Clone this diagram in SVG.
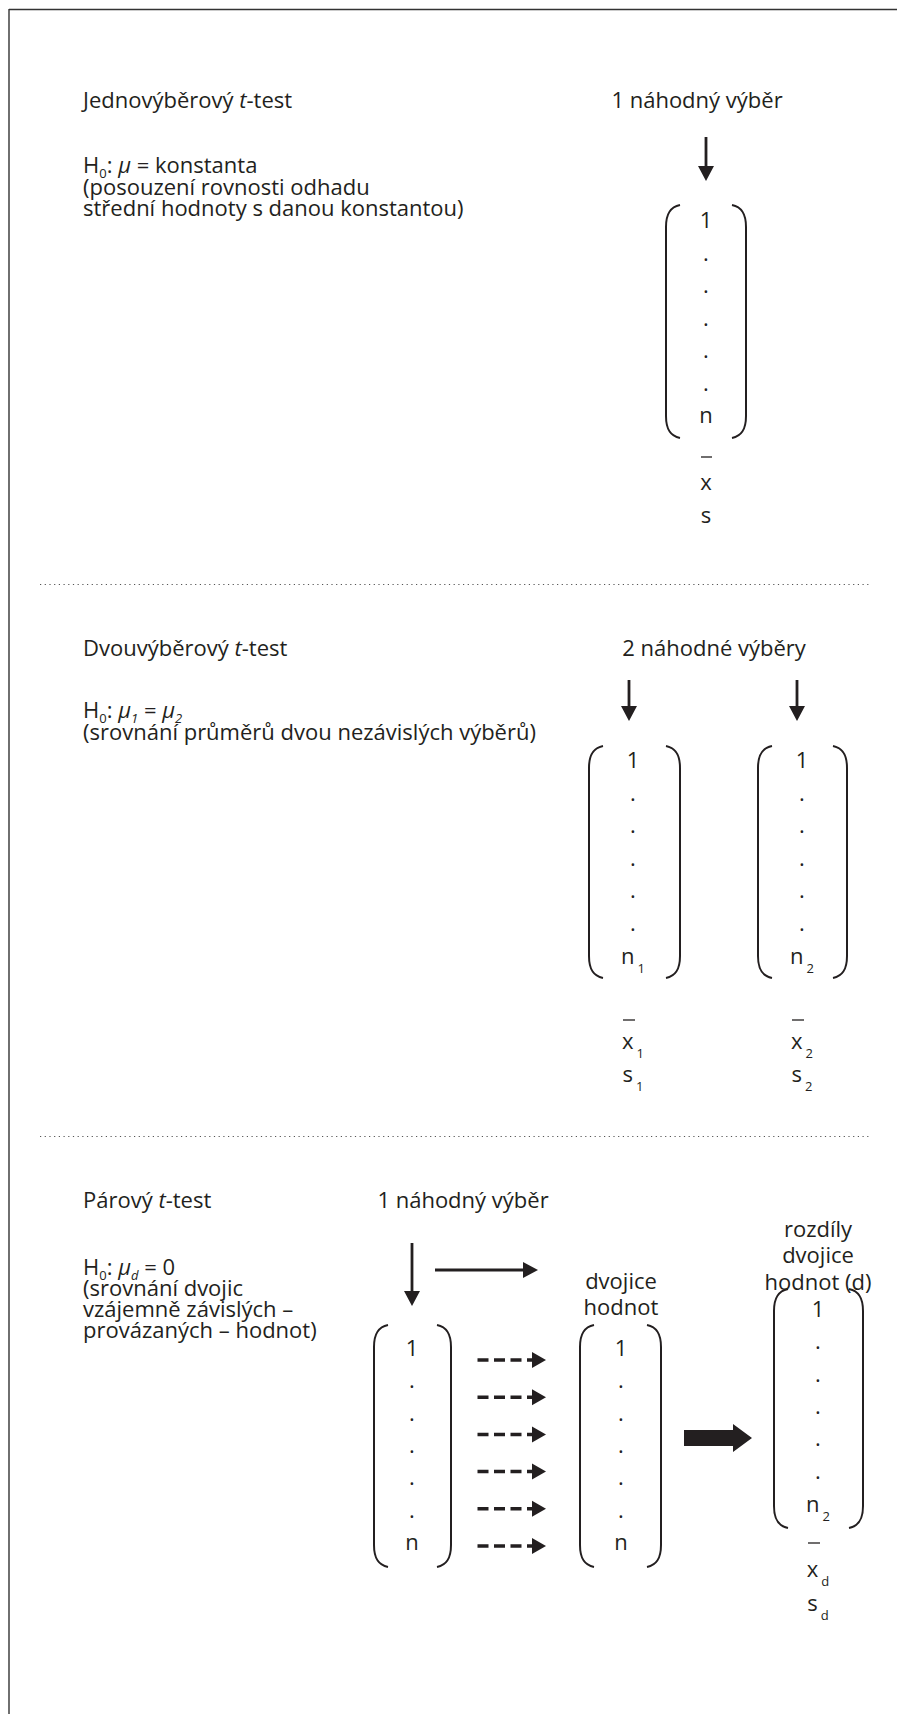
<svg xmlns="http://www.w3.org/2000/svg" width="897" height="1714" viewBox="0 0 897 1714">
<style>
text{font-family:"Open Sans","Noto Sans","DejaVu Sans",sans-serif;font-size:22px;fill:#231f20}
.c{text-anchor:middle}
.i{font-style:italic}
.sub{font-size:13px}
.br{fill:none;stroke:#231f20;stroke-width:2}
.ar{stroke:#231f20;stroke-width:2.8;fill:none}
.hd{fill:#231f20}
.bar{stroke:#231f20;stroke-width:1.3}
.dot{stroke:#555;stroke-width:1.2;stroke-dasharray:1.2 3.5;fill:none}
.dash{stroke:#231f20;stroke-width:3.5;stroke-dasharray:11 5.5;fill:none}
</style>
<rect width="897" height="1714" fill="#fff"/>
<g id="frame">
<line x1="9" y1="9.5" x2="897" y2="9.5" stroke="#333" stroke-width="1.4"/>
<line x1="9" y1="9" x2="9" y2="1714" stroke="#333" stroke-width="1.4"/>
</g>
<g id="separators">
<line class="dot" x1="40" y1="584.5" x2="871" y2="584.5"/>
<line class="dot" x1="40" y1="1136.5" x2="871" y2="1136.5"/>
</g>

<g id="sec1-text">
<text x="83" y="108">Jednovýběrový <tspan class="i">t</tspan>-test</text>
<text x="83" y="173">H<tspan class="sub" dy="5">0</tspan><tspan dy="-5">: </tspan><tspan class="i">μ</tspan> = konstanta</text>
<text x="83" y="194.5">(posouzení rovnosti odhadu</text>
<text x="83" y="216">střední hodnoty s danou konstantou)</text>
<text class="c" x="697" y="108">1 náhodný výběr</text>
</g>
<g id="sec1-sample">
<path class="br" d="M680,205 C670,207 666,214 666,227 L666,416 C666,429 670,436 680,438"/>
<path class="br" d="M732,205 C742,207 746,214 746,227 L746,416 C746,429 742,436 732,438"/>
<text class="c" x="706" y="228">1</text>
<text class="c" x="706" y="260.5">.</text>
<text class="c" x="706" y="293">.</text>
<text class="c" x="706" y="325.5">.</text>
<text class="c" x="706" y="358">.</text>
<text class="c" x="706" y="390.5">.</text>
<text class="c" x="706" y="423">n</text>
<line class="bar" x1="701" y1="457" x2="712" y2="457"/>
<text class="c" x="706" y="490">x</text>
<text class="c" x="706" y="523">s</text>
</g>

<g id="sec2-text">
<text x="83" y="656">Dvouvýběrový <tspan class="i">t</tspan>-test</text>
<text x="83" y="718">H<tspan class="sub" dy="5">0</tspan><tspan dy="-5">: </tspan><tspan class="i">μ</tspan><tspan class="sub i" dy="5">1</tspan><tspan dy="-5"> = </tspan><tspan class="i">μ</tspan><tspan class="sub i" dy="5">2</tspan></text>
<text x="83" y="740">(srovnání průměrů dvou nezávislých výběrů)</text>
<text class="c" x="714" y="656">2 náhodné výběry</text>
</g>
<g id="sec2-sample1">
<path class="br" d="M603,746 C593,748 589,755 589,768 L589,956 C589,969 593,976 603,978"/>
<path class="br" d="M666,746 C676,748 680,755 680,768 L680,956 C680,969 676,976 666,978"/>
<text class="c" x="633" y="768">1</text>
<text class="c" x="633" y="800.5">.</text>
<text class="c" x="633" y="833">.</text>
<text class="c" x="633" y="865.5">.</text>
<text class="c" x="633" y="898">.</text>
<text class="c" x="633" y="930.5">.</text>
<text class="c" x="633" y="964">n<tspan class="sub" dx="3" dy="9">1</tspan></text>
<line class="bar" x1="623" y1="1020" x2="635" y2="1020"/>
<text class="c" x="633" y="1049">x<tspan class="sub" dx="3" dy="9">1</tspan></text>
<text class="c" x="633" y="1082">s<tspan class="sub" dx="3" dy="9">1</tspan></text>
</g>
<g id="sec2-sample2">
<path class="br" d="M772,746 C762,748 758,755 758,768 L758,956 C758,969 762,976 772,978"/>
<path class="br" d="M833,746 C843,748 847,755 847,768 L847,956 C847,969 843,976 833,978"/>
<text class="c" x="802" y="768">1</text>
<text class="c" x="802" y="800.5">.</text>
<text class="c" x="802" y="833">.</text>
<text class="c" x="802" y="865.5">.</text>
<text class="c" x="802" y="898">.</text>
<text class="c" x="802" y="930.5">.</text>
<text class="c" x="802" y="964">n<tspan class="sub" dx="3" dy="9">2</tspan></text>
<line class="bar" x1="792" y1="1020" x2="804" y2="1020"/>
<text class="c" x="802" y="1049">x<tspan class="sub" dx="3" dy="9">2</tspan></text>
<text class="c" x="802" y="1082">s<tspan class="sub" dx="3" dy="9">2</tspan></text>
</g>

<g id="sec3-text">
<text x="83" y="1208">Párový <tspan class="i">t</tspan>-test</text>
<text x="83" y="1275">H<tspan class="sub" dy="5">0</tspan><tspan dy="-5">: </tspan><tspan class="i">μ</tspan><tspan class="sub i" dy="5">d</tspan><tspan dy="-5"> = 0</tspan></text>
<text x="83" y="1296">(srovnání dvojic</text>
<text x="83" y="1317">vzájemně závislých –</text>
<text x="83" y="1338">provázaných – hodnot)</text>
<text class="c" x="463" y="1208">1 náhodný výběr</text>
</g>
<g id="sec3-pairs-label">
<text class="c" x="621" y="1289">dvojice</text>
<text class="c" x="621" y="1315">hodnot</text>
</g>
<g id="sec3-diff-label">
<text class="c" x="818" y="1237">rozdíly</text>
<text class="c" x="818" y="1263">dvojice</text>
<text class="c" x="818" y="1290">hodnot (d)</text>
</g>
<g id="sec3-sample">
<path class="br" d="M388,1325 C378,1327 374,1334 374,1347 L374,1545 C374,1558 378,1565 388,1567"/>
<path class="br" d="M437,1325 C447,1327 451,1334 451,1347 L451,1545 C451,1558 447,1565 437,1567"/>
<text class="c" x="412" y="1356">1</text>
<text class="c" x="412" y="1388.3">.</text>
<text class="c" x="412" y="1420.6">.</text>
<text class="c" x="412" y="1452.9">.</text>
<text class="c" x="412" y="1485.2">.</text>
<text class="c" x="412" y="1517.5">.</text>
<text class="c" x="412" y="1550">n</text>
</g>
<g id="sec3-pairs">
<path class="br" d="M594,1325 C584,1327 580,1334 580,1347 L580,1545 C580,1558 584,1565 594,1567"/>
<path class="br" d="M647,1325 C657,1327 661,1334 661,1347 L661,1545 C661,1558 657,1565 647,1567"/>
<text class="c" x="621" y="1356">1</text>
<text class="c" x="621" y="1388.3">.</text>
<text class="c" x="621" y="1420.6">.</text>
<text class="c" x="621" y="1452.9">.</text>
<text class="c" x="621" y="1485.2">.</text>
<text class="c" x="621" y="1517.5">.</text>
<text class="c" x="621" y="1550">n</text>
</g>
<g id="sec3-diffs">
<path class="br" d="M788,1289 C778,1291 774,1298 774,1311 L774,1506 C774,1519 778,1526 788,1528"/>
<path class="br" d="M849,1289 C859,1291 863,1298 863,1311 L863,1506 C863,1519 859,1526 849,1528"/>
<text class="c" x="818" y="1317">1</text>
<text class="c" x="818" y="1349.3">.</text>
<text class="c" x="818" y="1381.6">.</text>
<text class="c" x="818" y="1413.9">.</text>
<text class="c" x="818" y="1446.2">.</text>
<text class="c" x="818" y="1478.5">.</text>
<text class="c" x="818" y="1511.5">n<tspan class="sub" dx="3" dy="9">2</tspan></text>
<line class="bar" x1="808" y1="1543" x2="820" y2="1543"/>
<text class="c" x="818" y="1577">x<tspan class="sub" dx="3" dy="9">d</tspan></text>
<text class="c" x="818" y="1611">s<tspan class="sub" dx="3" dy="9">d</tspan></text>
</g>

<g id="connectors">
<line class="ar" x1="706" y1="137" x2="706" y2="168"/>
<polygon class="hd" points="698,166 714,166 706,181"/>
<line class="ar" x1="629" y1="680" x2="629" y2="708"/>
<polygon class="hd" points="621,706 637,706 629,721"/>
<line class="ar" x1="797" y1="680" x2="797" y2="708"/>
<polygon class="hd" points="789,706 805,706 797,721"/>
<line class="ar" x1="412" y1="1243" x2="412" y2="1293"/>
<polygon class="hd" points="404,1291 420,1291 412,1306"/>
<line class="ar" x1="435" y1="1270" x2="525" y2="1270"/>
<polygon class="hd" points="523,1262 523,1278 538,1270"/>
<g id="dashed">
<line class="dash" x1="477.5" y1="1360" x2="534" y2="1360"/><polygon class="hd" points="532,1352 532,1368 546,1360"/>
<line class="dash" x1="477.5" y1="1397.2" x2="534" y2="1397.2"/><polygon class="hd" points="532,1389.2 532,1405.2 546,1397.2"/>
<line class="dash" x1="477.5" y1="1434.4" x2="534" y2="1434.4"/><polygon class="hd" points="532,1426.4 532,1442.4 546,1434.4"/>
<line class="dash" x1="477.5" y1="1471.6" x2="534" y2="1471.6"/><polygon class="hd" points="532,1463.6 532,1479.6 546,1471.6"/>
<line class="dash" x1="477.5" y1="1508.8" x2="534" y2="1508.8"/><polygon class="hd" points="532,1500.8 532,1516.8 546,1508.8"/>
<line class="dash" x1="477.5" y1="1546" x2="534" y2="1546"/><polygon class="hd" points="532,1538 532,1554 546,1546"/>
</g>
<polygon class="hd" points="684,1430 733,1430 733,1424 752,1438 733,1452 733,1446 684,1446"/>
</g>
</svg>
